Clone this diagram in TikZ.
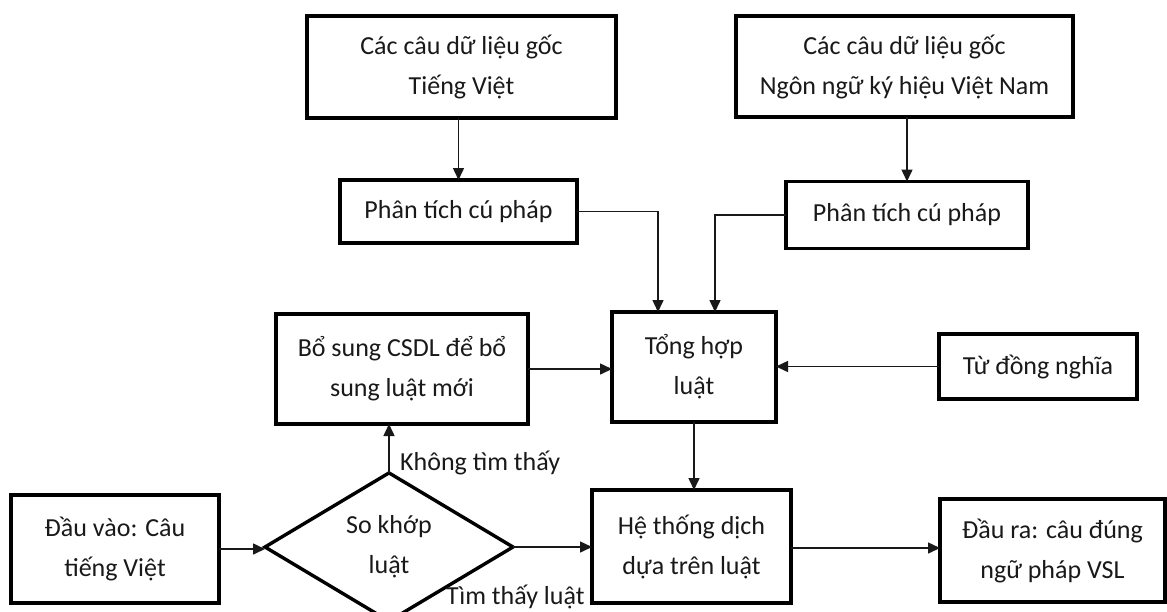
\documentclass[tikz,border=0pt]{standalone}
\usepackage{fontspec}
\setmainfont{Carlito}
\usetikzlibrary{shapes.geometric,arrows.meta}
\begin{document}
\begin{tikzpicture}[x=1pt,y=-1pt,
  font=\fontsize{26}{40}\selectfont,
  box/.style={draw=black, line width=3.4pt, inner sep=0pt, outer sep=0pt,
    align=center, text=black!90},
  decision/.style={diamond, draw=black, line width=3.4pt, inner sep=0pt,
    outer sep=0pt, align=center, text=black!90},
  arr/.style={line width=1.5pt, draw=black!90,
    -{Triangle[length=12pt,width=11pt]}},
  lbl/.style={inner sep=0pt, text=black!90}]
\useasboundingbox[fill=white] (0,0) rectangle (1167,611);

% source corpora
\node[box, minimum width=309pt, minimum height=102pt] (b1) at (461.5,67)
  {Các câu dữ liệu gốc\\Tiếng Việt};
\node[box, minimum width=337pt, minimum height=101pt] (b2) at (904.5,66.5)
  {Các câu dữ liệu gốc\\Ngôn ngữ ký hiệu Việt Nam};

% parsing
\node[box, minimum width=237pt, minimum height=63pt] (p1) at (458.5,211.5)
  {Phân tích cú pháp};
\node[box, minimum width=242pt, minimum height=67pt] (p2) at (907,215)
  {Phân tích cú pháp};

% rule building
\node[box, minimum width=164pt, minimum height=110pt] (th) at (694,367)
  {Tổng hợp\\luật};
\node[box, minimum width=252pt, minimum height=110pt] (bs) at (402,369)
  {Bổ sung CSDL để bổ\\sung luật mới};
\node[box, minimum width=198pt, minimum height=65pt] (td) at (1038,366.5)
  {Từ đồng nghĩa};

% translation row
\node[box, minimum width=208pt, minimum height=108pt] (dv) at (115,549)
  {Đầu vào: Câu\\tiếng Việt};
\node[decision, minimum width=248pt, minimum height=130pt] (sk) at (389,547)
  {So khớp\\luật};
\node[box, minimum width=199pt, minimum height=113pt] (ht) at (691.5,546.5)
  {Hệ thống dịch\\dựa trên luật};
\node[box, minimum width=225pt, minimum height=103pt] (dr) at (1052.5,550.5)
  {Đầu ra: câu đúng\\ngữ pháp VSL};

% connectors
\draw[arr] (p1.north |- b1.south) -- (p1.north);
\draw[arr] (p2.north |- b2.south) -- (p2.north);
\draw[arr] (p1.east) -| ([xshift=-36pt]th.north);
\draw[arr] (p2.west) -| ([xshift=21pt]th.north);
\draw[arr] (bs.east) -- (bs.east -| th.west);
\draw[arr] (td.west) -- (td.west -| th.east);
\draw[arr] (th.south) -- (th.south |- ht.north);
\draw[arr] (sk.north) -- (sk.north |- bs.south);
\draw[arr] (dv.east) -- (dv.east -| sk.west);
\draw[arr] (sk.east) -- (sk.east -| ht.west);
\draw[arr] (ht.east |- 0,548) -- (dr.west |- 0,548);

% branch labels
\node[lbl, anchor=west] (nf) at (400,463) {Không tìm thấy};
\node[lbl, anchor=base west] (fd) at (446,604) {Tìm thấy luật};
\end{tikzpicture}
\end{document}
